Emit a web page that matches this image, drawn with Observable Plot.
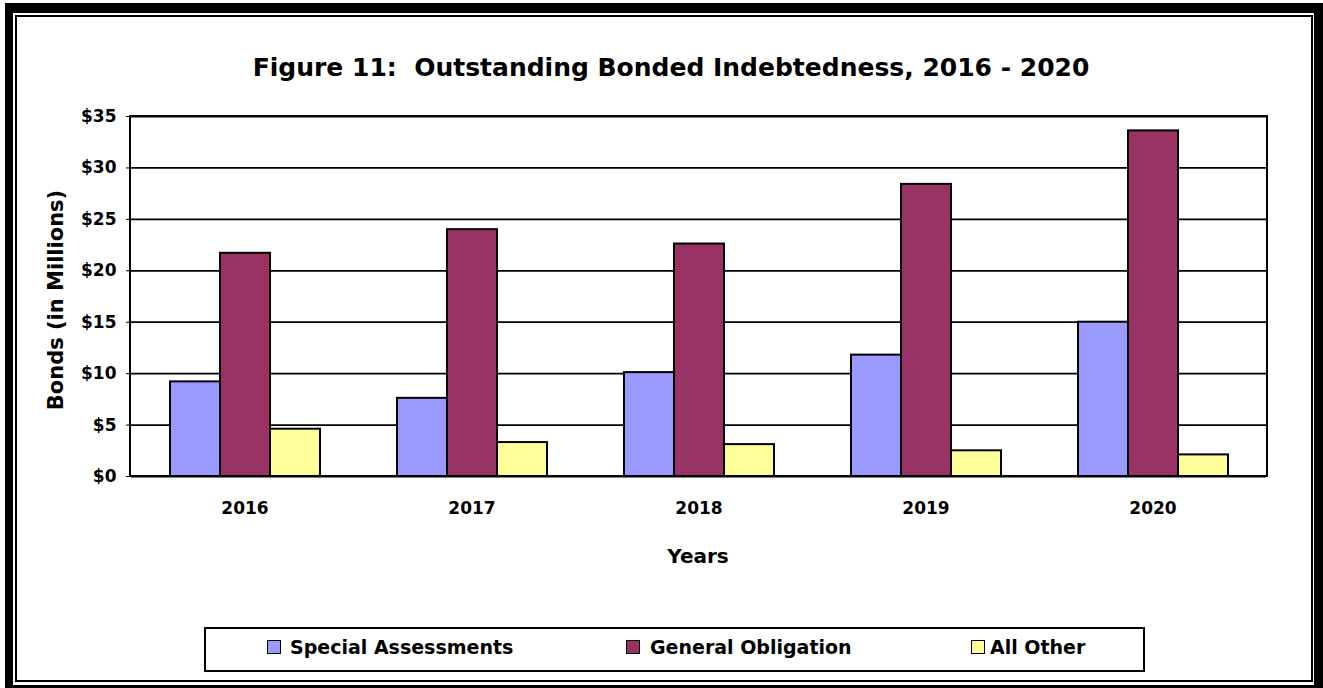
<!DOCTYPE html>
<html>
<head>
<meta charset="utf-8">
<script src="https://cdn.jsdelivr.net/npm/d3@7"></script>
<script src="https://cdn.jsdelivr.net/npm/@observablehq/plot@0.6"></script>
<style>
  html, body { margin: 0; padding: 0; background: #fff; width: 1323px; height: 688px; overflow: hidden;
    font-family: "DejaVu Sans", sans-serif; font-weight: bold; color: #000; }
  #outer { position: absolute; left: 5px; top: 3px; width: 1301px; height: 672px;
    border: 9px solid #000; border-left-width: 8px; border-top-width: 10px; }
  #inner { position: absolute; left: 15px; top: 15px; width: 1294px; height: 663px; border: 2px solid #000; }
  #title { position: absolute; left: 0; width: 1342px; top: 52px; line-height: 32px; text-align: center; font-size: 25px; white-space: pre; }
  #chart { position: absolute; left: 0; top: 100px; }
  #ytitle { position: absolute; left: -94px; top: 288px; width: 300px; height: 24px; line-height: 24px;
    text-align: center; font-size: 21px; transform: rotate(-90deg); }
  #xtitle { position: absolute; left: 598px; width: 200px; top: 543px; line-height: 26px; text-align: center; font-size: 20px; }
  #legend { position: absolute; left: 204px; top: 627px; width: 937px; height: 41px; border: 2px solid #000; background: #fff; }
  .sw { position: absolute; width: 12px; height: 12px; border: 1.5px solid #000; }
  .lt { position: absolute; font-size: 19px; line-height: 22px; white-space: nowrap; }
</style>
</head>
<body>
<div id="outer"></div>
<div id="inner"></div>
<div id="title">Figure 11:  Outstanding Bonded Indebtedness, 2016 - 2020</div>
<div id="chart"></div>
<div id="ytitle">Bonds (in Millions)</div>
<div id="xtitle">Years</div>
<div id="legendWrap"></div>
<script>
const years = ["2016", "2017", "2018", "2019", "2020"];
const seriesNames = ["Special Assessments", "General Obligation", "All Other"];
const specialAssessments = [9.2, 7.6, 10.1, 11.8, 15.0];
const generalObligation = [21.7, 24.0, 22.6, 28.4, 33.6];
const allOther = [4.6, 3.3, 3.1, 2.5, 2.1];
const seriesColors = ["#9999FF", "#993366", "#FFFF99"];
const yTicks = [0, 5, 10, 15, 20, 25, 30, 35];

const seriesValues = [specialAssessments, generalObligation, allOther];
const data = [];
years.forEach((yr, i) => {
  seriesNames.forEach((s, j) => data.push({year: yr, series: s, value: seriesValues[j][i]}));
});

const W = 1323, H = 490, mL = 130, mR = 56, mT = 16, mB = 114;
const chart = Plot.plot({
  width: W, height: H,
  marginLeft: mL, marginRight: mR, marginTop: mT, marginBottom: mB,
  style: {fontFamily: "DejaVu Sans", fontSize: "17px", fontWeight: "bold", background: "transparent", color: "#000", overflow: "visible"},
  fx: {domain: years, padding: 0, axis: "bottom", tickSize: 0, tickPadding: 25, label: null},
  x: {domain: seriesNames, paddingInner: 0, paddingOuter: 0.73, axis: null},
  y: {domain: [0, 35], ticks: yTicks, tickFormat: d => "$" + d, tickSize: 5, tickPadding: 10, label: null},
  color: {domain: seriesNames, range: seriesColors},
  marks: [
    Plot.ruleY(yTicks, {stroke: "#000", strokeWidth: 1.8}),
    Plot.barY(data, {fx: "year", x: "series", y: "value", fill: "series", stroke: "#000", strokeWidth: 2, inset: 0})
  ]
});
document.getElementById("chart").appendChild(chart);
d3.select(chart).append("rect")
  .attr("x", mL).attr("y", mT).attr("width", W - mL - mR).attr("height", H - mT - mB)
  .attr("fill", "none").attr("stroke", "#000").attr("stroke-width", 2);

// legend
const swLeft = [267, 626, 971];
const txtLeft = [290, 650, 990];
const wrap = document.getElementById("legendWrap");
const box = document.createElement("div"); box.id = "legend"; wrap.appendChild(box);
seriesNames.forEach((s, j) => {
  const sw = document.createElement("div"); sw.className = "sw";
  sw.style.left = swLeft[j] + "px"; sw.style.top = "640px"; sw.style.background = seriesColors[j];
  wrap.appendChild(sw);
  const t = document.createElement("div"); t.className = "lt";
  t.style.left = txtLeft[j] + "px"; t.style.top = "636px"; t.textContent = s;
  wrap.appendChild(t);
});
</script>
</body>
</html>
